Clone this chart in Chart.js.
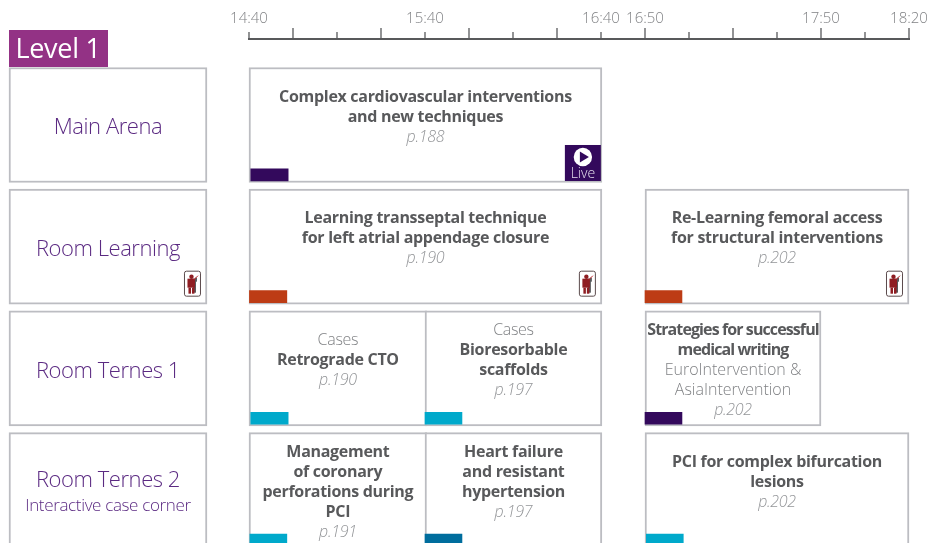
<!DOCTYPE html>
<html>
<head>
<meta charset="utf-8">
<title>Level 1</title>
<script src="https://cdn.jsdelivr.net/npm/chart.js@4"></script>
<style>
  html, body { margin: 0; padding: 0; background: #fff; overflow: hidden; }
  #wrap { width: 931px; height: 543px; }
</style>
</head>
<body>
<div id="wrap"><canvas id="program" width="931" height="543"></canvas></div>
<script>
// x axis runs in tick positions, the programme clock is not linear across the breaks
var tickLabels = ["14:40", "", "", "", "15:40", "", "", "", "16:40", "16:50", "", "", "", "17:50", "", "18:20"];

var rooms = ["Main Arena", "Room Learning", "Room Ternes 1", "Room Ternes 2"];
var roomNotes = ["", "", "", "Interactive case corner"];
var roomSpan = [-5.455, -0.955];

var sessionRow = [0, 1, 1, 2, 2, 2, 3, 3, 3];
var sessionStart = [0, 0, 9, 0, 4, 9, 0, 4, 9];
var sessionEnd = [8.02, 8.02, 15, 4.04, 8.02, 13, 4.04, 8.02, 15];
var sessionKicker = ["", "", "", "Cases", "Cases", "", "", "", ""];
var sessionTitle = [
    ["Complex cardiovascular interventions", "and new techniques"],
    ["Learning transseptal technique", "for left atrial appendage closure"],
    ["Re-Learning femoral access", "for structural interventions"],
    ["Retrograde CTO"],
    ["Bioresorbable", "scaffolds"],
    ["Strategies for successful", "medical writing"],
    ["Management", "of coronary", "perforations during", "PCI"],
    ["Heart failure", "and resistant", "hypertension"],
    ["PCI for complex bifurcation", "lesions"]
];
var sessionNote = [[], [], [], [], [], ["EuroIntervention &", "AsiaIntervention"], [], [], []];
var sessionPage = ["p.188", "p.190", "p.202", "p.190", "p.197", "p.202", "p.191", "p.197", "p.202"];
var tagStart = [0.04, 0.01, 9.0, 0.04, 4.0, 9.0, 0.02, 4.0, 9.03];
var tagEnd = [0.89, 0.86, 9.84, 0.89, 4.84, 9.84, 0.86, 4.84, 9.87];
var tagColors = ["#33095c", "#bd3c15", "#bd3c15", "#00a9cb", "#00a9cb", "#33095c", "#00a9cb", "#006d9d", "#00a9cb"];

var liveSessions = [0];
var handsOnSessions = [1, 2];
var handsOnRooms = [1];

var FAMILY = '"Open Sans", "Noto Sans", sans-serif';
var BORDER = "#bcbdc2";
var TAG_OFFSET = 0.41; // rows below the box centre
var TIGHT_SESSION = 5; // this title is squeezed to fit its box

function put(ctx, text, x, y, font, color, spacing) {
    ctx.font = font + " " + FAMILY;
    ctx.fillStyle = color;
    ctx.letterSpacing = spacing || "0px";
    ctx.textAlign = "center";
    ctx.textBaseline = "middle";
    ctx.fillText(text, x, y);
    ctx.letterSpacing = "0px";
}

function drawHandsOn(ctx, right, bottom) {
    var x = right - 23, y = bottom - 33.5;
    ctx.fillStyle = "#fff";
    ctx.strokeStyle = "#5b4a4c";
    ctx.lineWidth = 1;
    ctx.beginPath();
    ctx.roundRect(x + 0.5, y + 0.5, 16, 25, 2);
    ctx.fill();
    ctx.stroke();
    // grey figure behind
    ctx.fillStyle = "#58595b";
    ctx.fillRect(x + 9, y + 8, 3, 14);
    ctx.fillRect(x + 11, y + 7, 2, 4);
    // red figure
    ctx.fillStyle = "#8f1d22";
    ctx.beginPath();
    ctx.arc(x + 7.5, y + 6, 2.2, 0, Math.PI * 2);
    ctx.fill();
    ctx.fillRect(x + 3.5, y + 8, 7.5, 9);
    ctx.fillRect(x + 4.5, y + 17, 2.5, 6);
    ctx.fillRect(x + 8, y + 17, 2.5, 6);
    ctx.strokeStyle = "#c0272d";
    ctx.beginPath();
    ctx.moveTo(x + 10, y + 9);
    ctx.lineTo(x + 14, y + 5);
    ctx.stroke();
}

function drawLive(ctx, right, bottom) {
    var x = right - 37, y = bottom - 37.5;
    ctx.fillStyle = "#33095c";
    ctx.fillRect(x, y, 36, 36);
    ctx.fillStyle = "#fff";
    ctx.beginPath();
    ctx.arc(x + 18, y + 12, 9.2, 0, Math.PI * 2);
    ctx.fill();
    ctx.fillStyle = "#33095c";
    ctx.beginPath();
    ctx.moveTo(x + 15, y + 6.5);
    ctx.lineTo(x + 24, y + 12);
    ctx.lineTo(x + 15, y + 17.5);
    ctx.closePath();
    ctx.fill();
    put(ctx, "Live", x + 18, y + 29, "300 14px", "#e6e0ee");
}

var overlay = {
    id: "overlay",
    afterDraw: function (chart) {
        var ctx = chart.ctx, xs = chart.scales.x, ys = chart.scales.y;
        var axisY = 39;
        ctx.save();

        // time axis, long and short ticks in turn
        ctx.strokeStyle = "#58595b";
        ctx.lineWidth = 2;
        ctx.beginPath();
        ctx.moveTo(xs.getPixelForValue(0) - 1, axisY);
        ctx.lineTo(xs.getPixelForValue(tickLabels.length - 1) + 1, axisY);
        ctx.stroke();
        ctx.lineWidth = 1.3;
        tickLabels.forEach(function (label, i) {
            var px = xs.getPixelForValue(i);
            ctx.beginPath();
            ctx.moveTo(px, axisY);
            ctx.lineTo(px, axisY - (i % 2 ? 11 : 7));
            ctx.stroke();
        });

        // level flag
        ctx.fillStyle = "#933285";
        ctx.fillRect(9, 30, 99, 37);
        put(ctx, "Level 1", 58, 50, "400 27px", "#fff", "-0.3px");

        rooms.forEach(function (room, r) {
            var cx = (xs.getPixelForValue(roomSpan[0]) + xs.getPixelForValue(roomSpan[1])) / 2;
            var cy = ys.getPixelForValue(r);
            if (roomNotes[r]) {
                put(ctx, room, cx, cy - 9, "300 22px", "#5b2a82", "-0.45px");
                put(ctx, roomNotes[r], cx, cy + 16, "300 17px", "#5b2a82", "-0.35px");
            } else {
                put(ctx, room, cx, cy + 3, "300 22px", "#5b2a82", "-0.45px");
            }
        });

        sessionTitle.forEach(function (title, s) {
            var cx = (xs.getPixelForValue(sessionStart[s]) + xs.getPixelForValue(sessionEnd[s])) / 2;
            var cy = ys.getPixelForValue(sessionRow[s]);
            var count = (sessionKicker[s] ? 1 : 0) + title.length + sessionNote[s].length + 1;
            var y = Math.max(cy - 8 - (count - 1) * 10, cy - 38);
            if (sessionKicker[s]) {
                put(ctx, sessionKicker[s], cx, y, "300 16px", "#808285", "-0.3px");
                y += 20;
            }
            title.forEach(function (line) {
                put(ctx, line, cx, y, "700 16px", "#58595b", s === TIGHT_SESSION ? "-0.9px" : "-0.3px");
                y += 20;
            });
            sessionNote[s].forEach(function (line) {
                put(ctx, line, cx, y, "300 16px", "#808285");
                y += 20;
            });
            put(ctx, sessionPage[s], cx, y, "italic 300 16px", "#939598", "-0.3px");
        });

        liveSessions.forEach(function (s) {
            drawLive(ctx, xs.getPixelForValue(sessionEnd[s]), ys.getPixelForValue(sessionRow[s]) + 57.5);
        });
        handsOnSessions.forEach(function (s) {
            drawHandsOn(ctx, xs.getPixelForValue(sessionEnd[s]), ys.getPixelForValue(sessionRow[s]) + 57.5);
        });
        handsOnRooms.forEach(function (r) {
            drawHandsOn(ctx, xs.getPixelForValue(roomSpan[1]), ys.getPixelForValue(r) + 57.5);
        });
        ctx.restore();
    }
};

new Chart(document.getElementById("program").getContext("2d"), {
    type: "bar",
    plugins: [overlay],
    data: {
        datasets: [{
            label: "Rooms",
            data: rooms.map(function (room, r) { return { x: roomSpan, y: r }; }),
            backgroundColor: "#fff",
            borderColor: BORDER,
            borderWidth: 2,
            borderSkipped: false,
            barThickness: 115,
            order: 3
        }, {
            label: "Sessions",
            data: sessionRow.map(function (r, s) { return { x: [sessionStart[s], sessionEnd[s]], y: r }; }),
            backgroundColor: "#fff",
            borderColor: BORDER,
            borderWidth: 2,
            borderSkipped: false,
            barThickness: 115,
            order: 2
        }, {
            label: "Tags",
            data: sessionRow.map(function (r, s) { return { x: [tagStart[s], tagEnd[s]], y: r + TAG_OFFSET }; }),
            backgroundColor: tagColors,
            borderWidth: 0,
            barThickness: 12,
            order: 1
        }]
    },
    options: {
        indexAxis: "y",
        responsive: false,
        animation: false,
        events: [],
        layout: { padding: 0 },
        datasets: { bar: { grouped: false } },
        plugins: { legend: { display: false }, tooltip: { enabled: false }, title: { display: false } },
        scales: {
            x: {
                type: "linear",
                position: "top",
                min: -5.659,
                max: 15.5,
                afterBuildTicks: function (scale) {
                    scale.ticks = tickLabels.map(function (label, i) { return { value: i }; });
                },
                afterFit: function (scale) {
                    scale.height = 39;
                    scale.paddingLeft = 0;
                    scale.paddingRight = 0;
                },
                grid: { display: false },
                border: { display: false },
                ticks: {
                    autoSkip: false,
                    maxRotation: 0,
                    padding: 3,
                    color: "#808285",
                    font: { family: FAMILY, size: 15, weight: "300" },
                    callback: function (value, index) { return tickLabels[index]; }
                }
            },
            y: {
                type: "linear",
                display: false,
                reverse: true,
                offset: false,
                min: -0.7066,
                max: 3.4349
            }
        }
    }
});
</script>
</body>
</html>
